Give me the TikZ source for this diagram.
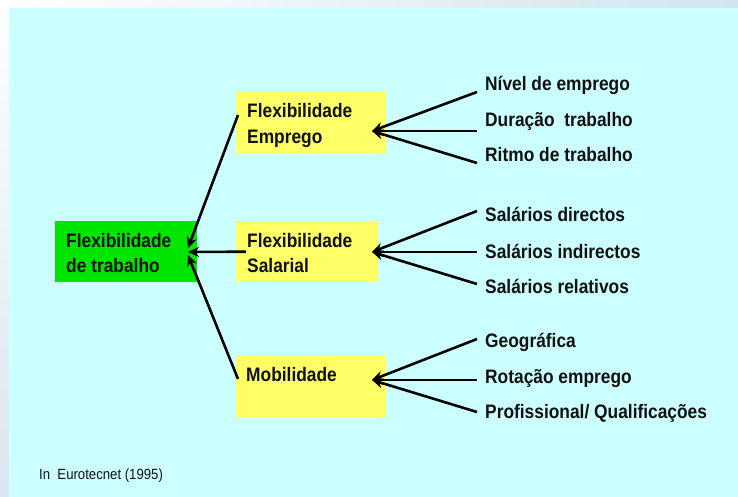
\documentclass[tikz,border=0pt]{standalone}
\usepackage{fontspec}
\setmainfont[FakeStretch=0.89]{Liberation Sans}
\usetikzlibrary{arrows.meta,shadings}
\definecolor{bgcyan}{HTML}{CCFFFF}
\definecolor{boxyellow}{HTML}{FFFF66}
\definecolor{boxgreen}{HTML}{00E600}
\definecolor{ink}{HTML}{111111}
\definecolor{bgA}{HTML}{D2E4EE}
\definecolor{bgB}{HTML}{DAE6F0}
\definecolor{bgC}{HTML}{CDDEE8}
\tikzset{
  big/.style={font=\fontsize{19.5}{25}\selectfont\bfseries, text=ink},
  ybox/.style={fill=boxyellow, anchor=north west, inner sep=0pt},
  gbox/.style={fill=boxgreen, anchor=north west, inner sep=0pt},
  lab/.style={big, anchor=base west, inner sep=0pt},
  arr/.style={draw=black, line width=2.6pt, -{Stealth[length=11pt,width=10pt]}},
}
\begin{document}
\begin{tikzpicture}[x=1pt,y=-1pt]
\useasboundingbox (0,0) rectangle (738,497);
\shade[upper left=white, upper right=bgA, lower left=bgB, lower right=bgC] (0,0) rectangle (738,497);
\fill[bgcyan] (9,8) rectangle (738,497);

% boxes
\node[gbox, minimum width=142pt, minimum height=61pt] (ft) at (55,221) {};
\node[ybox, minimum width=150pt, minimum height=62pt] (fe) at (236,91) {};
\node[ybox, minimum width=142pt, minimum height=61pt] (fs) at (236,221) {};
\node[ybox, minimum width=150pt, minimum height=62pt] (mo) at (236,355) {};

% box texts
\node[lab] (ft1) at ([shift={(11,26)}]ft.north west) {Flexibilidade};
\node[lab] (ft2) at ([shift={(11,51)}]ft.north west) {de trabalho};
\node[lab] (fe1) at ([shift={(11,27)}]fe.north west) {Flexibilidade};
\node[lab] (fe2) at ([shift={(11,52.5)}]fe.north west) {Emprego};
\node[lab] (fs1) at ([shift={(11,26)}]fs.north west) {Flexibilidade};
\node[lab] (fs2) at ([shift={(11,51)}]fs.north west) {Salarial};
\node[lab] (mo1) at ([shift={(10,26)}]mo.north west) {Mobilidade};

% right labels (base west, baseline = cap centre + 7)
\node[lab] (a1) at (485,91) {Nível de emprego};
\node[lab] (a2) at (485,127) {Duração\ \ trabalho};
\node[lab] (a3) at (485,162) {Ritmo de trabalho};
\node[lab] (b1) at (485,221) {Salários directos};
\node[lab] (b2) at (485,258) {Salários indirectos};
\node[lab] (b3) at (485,293) {Salários relativos};
\node[lab] (c1) at (485,347) {Geográfica};
\node[lab] (c2) at (485,383) {Rotação emprego};
\node[lab] (c3) at (485,418) {Profissional/ Qualificações};

\node[anchor=base west, inner sep=0pt, text=ink, font=\fontsize{14.8}{18}\selectfont] (src) at (39,479) {In\ \ Eurotecnet (1995)};

% tips
\coordinate (te) at (372,131);
\coordinate (ts) at (372,252);
\coordinate (tm) at (372,380);
\coordinate (tg1) at (188,248);
\coordinate (tg2) at (188,252);
\coordinate (tg3) at (188,255);

% arrows into yellow boxes
\draw[arr] ([shift={(-8,1)}]a1.base west) -- (te);
\draw[arr] ([shift={(-8,4)}]a2.base west) -- (te);
\draw[arr] ([shift={(-8,1)}]a3.base west) -- (te);
\draw[arr] ([shift={(-8,-10)}]b1.base west) -- (ts);
\draw[arr] ([shift={(-8,-6)}]b2.base west) -- (ts);
\draw[arr] ([shift={(-8,-9)}]b3.base west) -- (ts);
\draw[arr] ([shift={(-8,-8)}]c1.base west) -- (tm);
\draw[arr] ([shift={(-8,-3)}]c2.base west) -- (tm);
\draw[arr] ([shift={(-8,-6)}]c3.base west) -- (tm);

% arrows into green box
\draw[arr] ([shift={(2,24)}]fe.north west) -- (tg1);
\draw[arr] ([shift={(10,0)}]fs.west) -- (tg2);
\draw[arr] ([shift={(2,24)}]mo.north west) -- (tg3);
\end{tikzpicture}
\end{document}
